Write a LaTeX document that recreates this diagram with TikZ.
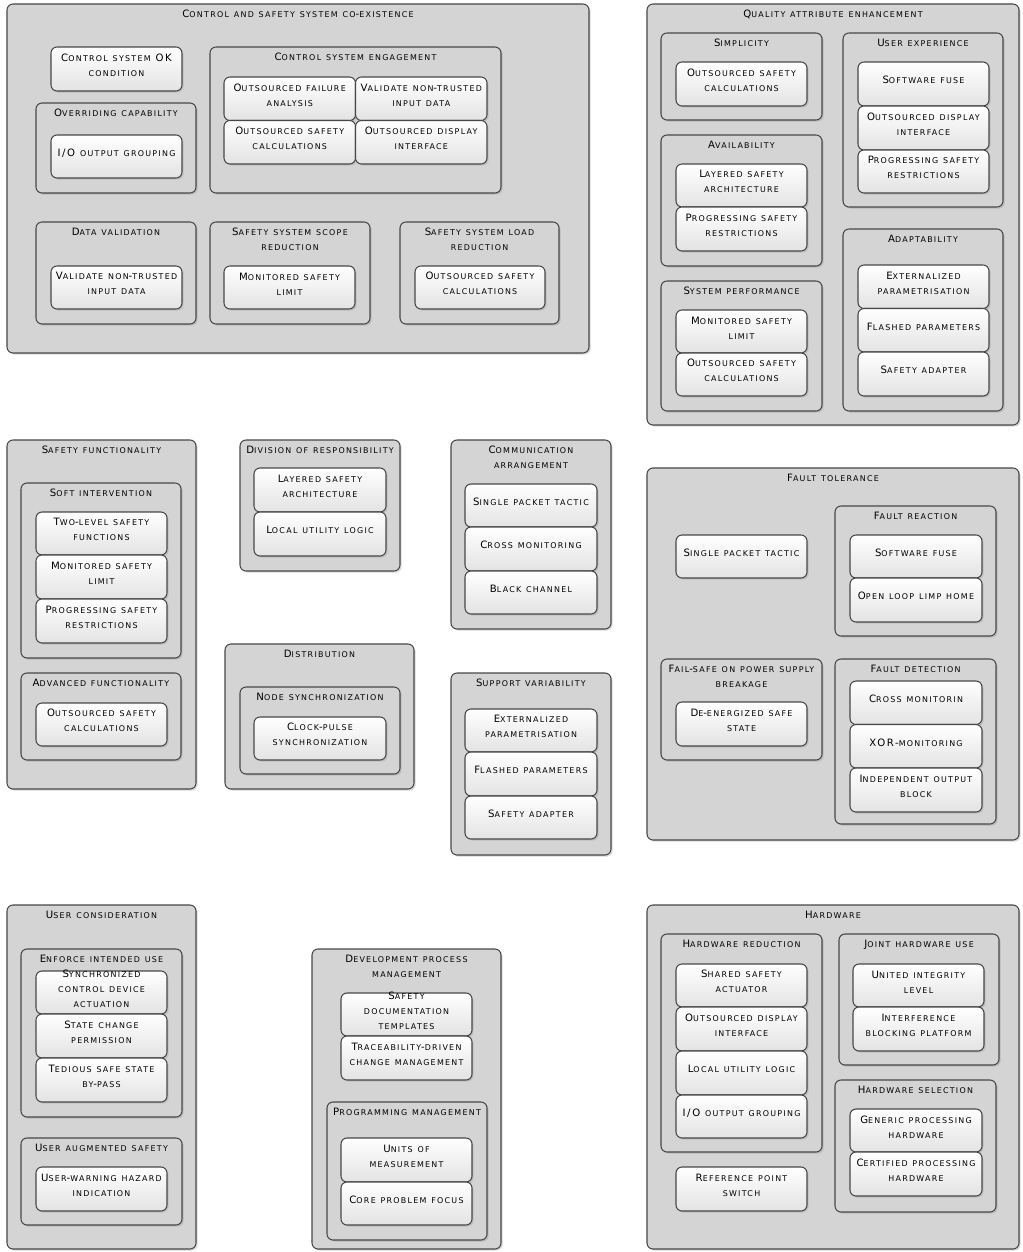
\documentclass[tikz,border=0pt]{standalone}
\usepackage{fontspec}
\setmainfont{DejaVu Sans}[LetterSpace=16]
\usepackage{tikz}
\usetikzlibrary{positioning,fit,shadows}

\newcommand\boxfont{\fontsize{7.6}{11.25}\selectfont}
\newcommand\fscsmall{\fontsize{5.95}{11.25}\selectfont}

% fake small caps: capitals stay, small letters become smaller capitals
\ExplSyntaxOn
\tl_new:N \l__fsc_all_tl
\seq_new:N \l__fsc_lines_seq
\seq_new:N \l__fsc_words_seq
\bool_new:N \l__fsc_firstl_bool
\bool_new:N \l__fsc_firstw_bool
\cs_new_protected:Npn \__fsc_char:n #1
  {
    \bool_lazy_and:nnTF
      { \int_compare_p:nNn { `#1 } > { 96 } }
      { \int_compare_p:nNn { `#1 } < { 123 } }
      { \tl_put_right:Nn \l__fsc_all_tl { { \fscsmall \text_uppercase:n { #1 } } } }
      { \tl_put_right:Nn \l__fsc_all_tl { #1 } }
  }
\NewDocumentCommand \fsc { m }
  {
    \tl_clear:N \l__fsc_all_tl
    \seq_set_split:Nnn \l__fsc_lines_seq { \\ } { #1 }
    \bool_set_true:N \l__fsc_firstl_bool
    \seq_map_inline:Nn \l__fsc_lines_seq
      {
        \bool_if:NF \l__fsc_firstl_bool { \tl_put_right:Nn \l__fsc_all_tl { \\ } }
        \bool_set_false:N \l__fsc_firstl_bool
        \seq_set_split:Nnn \l__fsc_words_seq { ~ } { ##1 }
        \bool_set_true:N \l__fsc_firstw_bool
        \seq_map_inline:Nn \l__fsc_words_seq
          {
            \bool_if:NF \l__fsc_firstw_bool { \tl_put_right:Nn \l__fsc_all_tl { \c_space_tl } }
            \bool_set_false:N \l__fsc_firstw_bool
            \tl_map_inline:nn { ####1 } { \__fsc_char:n { ########1 } }
          }
      }
    \tl_use:N \l__fsc_all_tl
  }
\ExplSyntaxOff

\begin{document}
\begin{tikzpicture}[x=0.75pt, y=-0.75pt,
    grp/.style={draw=black!72, line width=0.8pt, fill=gray!34, rounded corners=4.5pt,
        inner sep=0pt, drop shadow={opacity=0.3, shadow xshift=1.2pt, shadow yshift=-1.2pt}},
    itm/.style={draw=black!72, line width=0.8pt, top color=white, bottom color=gray!22,
        rounded corners=4.5pt, inner sep=0pt, align=center, font=\boxfont,
        drop shadow={opacity=0.25, shadow xshift=1.2pt, shadow yshift=-1.2pt}},
    ttl/.style={inner sep=0pt, align=center, font=\boxfont}]
    \useasboundingbox (0,0) rectangle (1022,1252);

    % Control and safety system co-existence
    \node[grp, fit={(7,4) (589,353)}] (cs) {};
    \node[ttl, below=4.5pt of cs.north] (cs-t) {\fsc{Control and safety system co-existence}};
    \node[itm, fit={(51,47) (182,91)}] (cs-ok) {\fsc{Control system OK\\condition}};
    \node[grp, fit={(36,103) (196,193)}] (ovr) {};
    \node[ttl, below=4.5pt of ovr.north] (ovr-t) {\fsc{Overriding capability}};
    \node[itm, fit={(51,135) (182,178)}] (ovr-io) {\fsc{I/O output grouping}};
    \node[grp, fit={(210,47) (501,193)}] (cse) {};
    \node[ttl, below=4.5pt of cse.north] (cse-t) {\fsc{Control system engagement}};
    \node[itm, fit={(224,77) (355.5,120.5)}] (cse-fa) {\fsc{Outsourced failure\\analysis}};
    \node[itm, fit={(355.5,77) (487,120.5)}] (cse-vi) {\fsc{Validate non-trusted\\input data}};
    \node[itm, fit={(224,120.5) (355.5,164)}] (cse-sc) {\fsc{Outsourced safety\\calculations}};
    \node[itm, fit={(355.5,120.5) (487,164)}] (cse-di) {\fsc{Outsourced display\\interface}};
    \node[grp, fit={(36,222) (196,324)}] (dv) {};
    \node[ttl, below=4.5pt of dv.north] (dv-t) {\fsc{Data validation}};
    \node[itm, fit={(51,266) (182,309)}] (dv-vi) {\fsc{Validate non-trusted\\input data}};
    \node[grp, fit={(210,222) (370,324)}] (ssr) {};
    \node[ttl, below=4.5pt of ssr.north] (ssr-t) {\fsc{Safety system scope\\reduction}};
    \node[itm, fit={(224,266) (355,309)}] (ssr-ml) {\fsc{Monitored safety\\limit}};
    \node[grp, fit={(400,222) (559,324)}] (slr) {};
    \node[ttl, below=4.5pt of slr.north] (slr-t) {\fsc{Safety system load\\reduction}};
    \node[itm, fit={(415,266) (545,309)}] (slr-sc) {\fsc{Outsourced safety\\calculations}};

    % Quality attribute enhancement
    \node[grp, fit={(647,4) (1019,425)}] (qa) {};
    \node[ttl, below=4.5pt of qa.north] (qa-t) {\fsc{Quality attribute enhancement}};
    \node[grp, fit={(661,33) (822,120)}] (simp) {};
    \node[ttl, below=4.5pt of simp.north] (simp-t) {\fsc{Simplicity}};
    \node[itm, fit={(676,62) (807,106)}] (simp-sc) {\fsc{Outsourced safety\\calculations}};
    \node[grp, fit={(843,33) (1003,207)}] (ux) {};
    \node[ttl, below=4.5pt of ux.north] (ux-t) {\fsc{User experience}};
    \node[itm, fit={(858,62) (989,106)}] (ux-sf) {\fsc{Software fuse}};
    \node[itm, fit={(858,106) (989,150)}] (ux-di) {\fsc{Outsourced display\\interface}};
    \node[itm, fit={(858,150) (989,193)}] (ux-pr) {\fsc{Progressing safety\\restrictions}};
    \node[grp, fit={(661,135) (822,266)}] (avl) {};
    \node[ttl, below=4.5pt of avl.north] (avl-t) {\fsc{Availability}};
    \node[itm, fit={(676,164) (807,207)}] (avl-ls) {\fsc{Layered safety\\architecture}};
    \node[itm, fit={(676,207) (807,251)}] (avl-pr) {\fsc{Progressing safety\\restrictions}};
    \node[grp, fit={(661,281) (822,411)}] (sp) {};
    \node[ttl, below=4.5pt of sp.north] (sp-t) {\fsc{System performance}};
    \node[itm, fit={(676,310) (807,353)}] (sp-ml) {\fsc{Monitored safety\\limit}};
    \node[itm, fit={(676,353) (807,396)}] (sp-sc) {\fsc{Outsourced safety\\calculations}};
    \node[grp, fit={(843,229) (1003,411)}] (adp) {};
    \node[ttl, below=4.5pt of adp.north] (adp-t) {\fsc{Adaptability}};
    \node[itm, fit={(858,265) (989,308.5)}] (adp-ep) {\fsc{Externalized\\parametrisation}};
    \node[itm, fit={(858,308.5) (989,352)}] (adp-fp) {\fsc{Flashed parameters}};
    \node[itm, fit={(858,352) (989,396)}] (adp-sa) {\fsc{Safety adapter}};

    % Safety functionality
    \node[grp, fit={(7,440) (196,789)}] (sf) {};
    \node[ttl, below=4.5pt of sf.north] (sf-t) {\fsc{Safety functionality}};
    \node[grp, fit={(21,483) (181,658)}] (si) {};
    \node[ttl, below=4.5pt of si.north] (si-t) {\fsc{Soft intervention}};
    \node[itm, fit={(36,512) (167,555)}] (si-tl) {\fsc{Two-level safety\\functions}};
    \node[itm, fit={(36,555) (167,599)}] (si-ml) {\fsc{Monitored safety\\limit}};
    \node[itm, fit={(36,599) (167,643)}] (si-pr) {\fsc{Progressing safety\\restrictions}};
    \node[grp, fit={(21,673) (181,760)}] (af) {};
    \node[ttl, below=4.5pt of af.north] (af-t) {\fsc{Advanced functionality}};
    \node[itm, fit={(36,703) (167,746)}] (af-sc) {\fsc{Outsourced safety\\calculations}};

    % Division of responsibility
    \node[grp, fit={(240,440) (400,571)}] (dr) {};
    \node[ttl, below=4.5pt of dr.north] (dr-t) {\fsc{Division of responsibility}};
    \node[itm, fit={(254,468) (386,512)}] (dr-ls) {\fsc{Layered safety\\architecture}};
    \node[itm, fit={(254,512) (386,556)}] (dr-lu) {\fsc{Local utility logic}};

    % Communication arrangement
    \node[grp, fit={(451,440) (611,629)}] (ca) {};
    \node[ttl, below=4.5pt of ca.north] (ca-t) {\fsc{Communication\\arrangement}};
    \node[itm, fit={(465,484) (597,527)}] (ca-sp) {\fsc{Single packet tactic}};
    \node[itm, fit={(465,527) (597,571)}] (ca-cm) {\fsc{Cross monitoring}};
    \node[itm, fit={(465,571) (597,614)}] (ca-bc) {\fsc{Black channel}};

    % Distribution
    \node[grp, fit={(225,644) (414,789)}] (dist) {};
    \node[ttl, below=4.5pt of dist.north] (dist-t) {\fsc{Distribution}};
    \node[grp, fit={(240,687) (400,774)}] (ns) {};
    \node[ttl, below=4.5pt of ns.north] (ns-t) {\fsc{Node synchronization}};
    \node[itm, fit={(254,717) (386,760)}] (ns-cp) {\fsc{Clock-pulse\\synchronization}};

    % Support variability
    \node[grp, fit={(451,673) (611,855)}] (sv) {};
    \node[ttl, below=4.5pt of sv.north] (sv-t) {\fsc{Support variability}};
    \node[itm, fit={(465,709) (597,752)}] (sv-ep) {\fsc{Externalized\\parametrisation}};
    \node[itm, fit={(465,752) (597,796)}] (sv-fp) {\fsc{Flashed parameters}};
    \node[itm, fit={(465,796) (597,839)}] (sv-sa) {\fsc{Safety adapter}};

    % Fault tolerance
    \node[grp, fit={(647,468) (1019,840)}] (ft) {};
    \node[ttl, below=4.5pt of ft.north] (ft-t) {\fsc{Fault tolerance}};
    \node[itm, fit={(676,535) (807,578)}] (ft-sp) {\fsc{Single packet tactic}};
    \node[grp, fit={(835,506) (996,636)}] (fr) {};
    \node[ttl, below=4.5pt of fr.north] (fr-t) {\fsc{Fault reaction}};
    \node[itm, fit={(850,535) (982,578)}] (fr-sf) {\fsc{Software fuse}};
    \node[itm, fit={(850,578) (982,622)}] (fr-ol) {\fsc{Open loop limp home}};
    \node[grp, fit={(661,659) (822,760)}] (fs) {};
    \node[ttl, below=4.5pt of fs.north] (fs-t) {\fsc{Fail-safe on power supply\\breakage}};
    \node[itm, fit={(676,702) (807,746)}] (fs-de) {\fsc{De-energized safe\\state}};
    \node[grp, fit={(835,659) (996,824)}] (fd) {};
    \node[ttl, below=4.5pt of fd.north] (fd-t) {\fsc{Fault detection}};
    \node[itm, fit={(850,681) (982,724.5)}] (fd-cm) {\fsc{Cross monitorin}};
    \node[itm, fit={(850,724.5) (982,768)}] (fd-xor) {\fsc{XOR-monitoring}};
    \node[itm, fit={(850,768) (982,812)}] (fd-io) {\fsc{Independent output\\block}};

    % User consideration
    \node[grp, fit={(7,905) (196,1249)}] (uc) {};
    \node[ttl, below=4.5pt of uc.north] (uc-t) {\fsc{User consideration}};
    \node[grp, fit={(21,949) (182,1117)}] (eiu) {};
    \node[ttl, below=4.5pt of eiu.north] (eiu-t) {\fsc{Enforce intended use}};
    \node[itm, fit={(36,971) (167,1014)}] (eiu-sc) {\fsc{Synchronized\\control device\\actuation}};
    \node[itm, fit={(36,1014) (167,1058)}] (eiu-sp) {\fsc{State change\\permission}};
    \node[itm, fit={(36,1058) (167,1102)}] (eiu-ts) {\fsc{Tedious safe state\\by-pass}};
    \node[grp, fit={(21,1138) (182,1225)}] (uas) {};
    \node[ttl, below=4.5pt of uas.north] (uas-t) {\fsc{User augmented safety}};
    \node[itm, fit={(36,1167) (167,1211)}] (uas-uw) {\fsc{User-warning hazard\\indication}};

    % Development process management
    \node[grp, fit={(312,949) (501,1249)}] (dpm) {};
    \node[ttl, below=4.5pt of dpm.north] (dpm-t) {\fsc{Development process\\management}};
    \node[itm, fit={(341,993) (472,1036)}] (dpm-sd) {\fsc{Safety\\documentation\\templates}};
    \node[itm, fit={(341,1036) (472,1080)}] (dpm-tr) {\fsc{Traceability-driven\\change management}};
    \node[grp, fit={(327,1102) (487,1240)}] (pm) {};
    \node[ttl, below=4.5pt of pm.north] (pm-t) {\fsc{Programming management}};
    \node[itm, fit={(341,1138) (472,1182)}] (pm-um) {\fsc{Units of\\measurement}};
    \node[itm, fit={(341,1182) (472,1225)}] (pm-cp) {\fsc{Core problem focus}};

    % Hardware
    \node[grp, fit={(647,905) (1019,1249)}] (hw) {};
    \node[ttl, below=4.5pt of hw.north] (hw-t) {\fsc{Hardware}};
    \node[grp, fit={(661,934) (822,1152)}] (hr) {};
    \node[ttl, below=4.5pt of hr.north] (hr-t) {\fsc{Hardware reduction}};
    \node[itm, fit={(676,964) (807,1007)}] (hr-ss) {\fsc{Shared safety\\actuator}};
    \node[itm, fit={(676,1007) (807,1051)}] (hr-di) {\fsc{Outsourced display\\interface}};
    \node[itm, fit={(676,1051) (807,1095)}] (hr-lu) {\fsc{Local utility logic}};
    \node[itm, fit={(676,1095) (807,1138)}] (hr-io) {\fsc{I/O output grouping}};
    \node[itm, fit={(676,1167) (807,1211)}] (hw-rp) {\fsc{Reference point\\switch}};
    \node[grp, fit={(839,934) (999,1065)}] (jhu) {};
    \node[ttl, below=4.5pt of jhu.north] (jhu-t) {\fsc{Joint hardware use}};
    \node[itm, fit={(853,964) (984,1007)}] (jhu-ui) {\fsc{United integrity\\level}};
    \node[itm, fit={(853,1007) (984,1051)}] (jhu-ib) {\fsc{Interference\\blocking platform}};
    \node[grp, fit={(835,1080) (996,1212)}] (hs) {};
    \node[ttl, below=4.5pt of hs.north] (hs-t) {\fsc{Hardware selection}};
    \node[itm, fit={(850,1109) (982,1152)}] (hs-gp) {\fsc{Generic processing\\hardware}};
    \node[itm, fit={(850,1152) (982,1196)}] (hs-cp) {\fsc{Certified processing\\hardware}};
\end{tikzpicture}
\end{document}
